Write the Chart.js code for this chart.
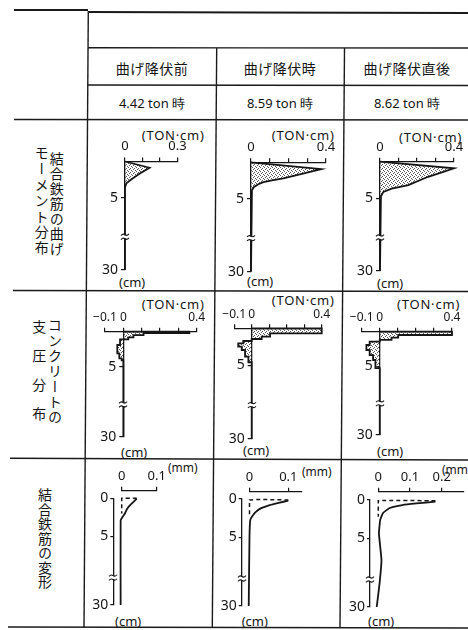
<!DOCTYPE html>
<html lang="ja">
<head>
<meta charset="utf-8">
<title>結合鉄筋の曲げモーメント・支圧・変形分布</title>
<script src="https://cdn.jsdelivr.net/npm/chart.js@4.4.1/dist/chart.umd.min.js"></script>
<style>
  html, body { margin: 0; padding: 0; background: #fff; }
  body { position: relative; width: 468px; height: 630px; overflow: hidden; }
  svg.rules { position: absolute; left: 0; top: 0; }
  canvas { position: absolute; }
  .lbl { position: absolute; color: #151515; white-space: nowrap; line-height: 1; }
  .jp { font-family: 'Noto Sans CJK JP', sans-serif; font-size: 14px; letter-spacing: 0.5px; }
  .num { font-family: 'Noto Sans', 'DejaVu Sans', sans-serif; font-size: 13px; }
  .unit { font-family: 'Noto Sans', 'DejaVu Sans', sans-serif; font-size: 13px; letter-spacing: 0.8px; }
  .mm { font-family: 'Noto Sans', 'DejaVu Sans', sans-serif; font-size: 12px; }
  .vert { position: absolute; writing-mode: vertical-rl; font-family: 'Noto Sans CJK JP', sans-serif;
          font-size: 14px; line-height: 1; color: #151515; white-space: nowrap; }
</style>
</head>
<body>
<svg class="rules" width="468" height="630">
  <g stroke="#1a1a1a" stroke-width="1.4" fill="none">
    <line x1="14" y1="10" x2="88" y2="10" stroke-width="2"/>
    <line x1="88" y1="12" x2="468" y2="13" stroke-width="2"/>
    <line x1="88" y1="47.7" x2="468" y2="48"/>
    <line x1="88" y1="85" x2="468" y2="85.5"/>
    <line x1="14" y1="119.5" x2="468" y2="120"/>
    <line x1="13" y1="290.5" x2="468" y2="291.5"/>
    <line x1="10" y1="458.3" x2="468" y2="460"/>
    <line x1="8" y1="627" x2="468" y2="628"/>
    <line x1="88.3" y1="11" x2="84" y2="628"/>
    <line x1="216.7" y1="48" x2="212.3" y2="628"/>
    <line x1="344.5" y1="48" x2="340" y2="628"/>
  </g>
</svg>

<div class="vert" style="left:49.7px; top:151.5px; letter-spacing:1px;">結合鉄筋の曲げ</div>
<div class="vert" style="left:34.7px; top:146px; letter-spacing:1.8px;">モーメント分布</div>
<div class="vert" style="left:48px; top:317.5px; letter-spacing:1.3px;">コンクリートの</div>
<div class="vert" style="left:32.3px; top:319.5px; letter-spacing:0.4px;">支　圧　分　布</div>
<div class="vert" style="left:38px; top:487.8px; letter-spacing:0.45px;">結合鉄筋の変形</div>

<script>
const INK = '#151515';
Chart.defaults.font.family = "'Noto Sans', 'DejaVu Sans', sans-serif";
Chart.defaults.color = INK;

// ---------- column headings ----------
const stageNames = ['曲げ降伏前', '曲げ降伏時', '曲げ降伏直後'];
const stageLoads = ['4.42 ton 時', '8.59 ton 時', '8.62 ton 時'];

// ---------- depth axis ----------
// 0–10 cm drawn to true scale, 10–30 cm squeezed beyond the break mark
function depthPos(d, squeeze) { return d <= 10 ? d : 10 + (d - 10) * squeeze; }
const depthTicksTop = [5, 30];
const depthTicksDef = [0, 5, 30];

// ---------- 結合鉄筋の曲げモーメント分布 (TON·cm) ----------
const momentDepthBefore = [0, 0.86, 1.63, 2.42, 3.0, 3.6, 30];
const momentValueBefore = [0, 0.14, 0.087, 0.039, 0.008, 0, 0];
const momentDepthAt = [0, 0.93, 1.76, 2.2, 2.45, 2.72, 3.0, 3.37, 3.83, 4.5, 30];
const momentValueAt = [0, 0.375, 0.244, 0.172, 0.119, 0.066, 0.039, 0.016, 0.005, 0, 0];
const momentDepthAfter = [0, 0.9, 1.5, 2.07, 3.2, 3.7, 4.15, 4.8, 5.3, 30];
const momentValueAfter = [0, 0.40, 0.33, 0.26, 0.153, 0.063, 0.018, 0.005, 0, 0];

// ---------- コンクリートの支圧分布 (TON·cm), stepwise over depth ----------
const bearingDepthBefore = [0, 0.2, 0.48, 0.81, 1.1, 1.9, 3.1, 3.8];
const bearingValueBefore = [0.36, 0.11, 0.055, 0.027, -0.018, -0.033, -0.022, -0.009];
const bearingEndBefore = 4.1;
const bearingDepthAt = [0, 0.68, 1.13, 1.45, 1.72, 2.03, 2.49, 2.94, 3.85];
const bearingValueAt = [0.40, 0.105, 0.057, 0, -0.048, -0.077, -0.057, -0.038, -0.019];
const bearingEndAt = 4.6;
const bearingDepthAfter = [0, 0.48, 0.87, 1.2, 1.45, 1.93, 2.66, 3.39, 4.11];
const bearingValueAfter = [0.40, 0.102, 0.065, 0, -0.056, -0.074, -0.056, -0.037, -0.024];
const bearingEndAfter = 5.3;

// ---------- 結合鉄筋の変形 (mm) ----------
const slipDepthBefore = [0.05, 0.5, 1.0, 1.5, 1.97, 2.4, 2.9, 30];
const slipValueBefore = [0.043, 0.033, 0.022, 0.014, 0.0095, 0.003, -0.003, -0.003];
const guideDepthBefore = [0, 0, 2.0];
const guideValueBefore = [0.043, 0, 0];
const slipDepthAt = [0.22, 0.5, 0.79, 1.2, 1.66, 2.2, 2.75, 4.9, 30];
const slipValueAt = [0.1, 0.075, 0.052, 0.03, 0.017, 0.008, 0.002, 0, -0.002];
const guideDepthAt = [0.13, 0.13, 2.3];
const guideValueAt = [0.1, 0, 0];
const slipDepthAfter = [0.22, 0.45, 0.66, 1.05, 1.7, 2.6, 4.4, 7.85, 14.5, 30];
const slipValueAfter = [0.18, 0.12, 0.076, 0.036, 0.015, 0.006, 0.002, 0.01, 0.004, -0.005];
const guideDepthAfter = [0.1, 0.1, 2.2];
const guideValueAfter = [0.18, 0, 0];

// ---------- value-axis ticks ----------
const momentTicks03 = [0, 0.1, 0.2, 0.3];
const momentLabels03 = ['0', '', '', '0.3'];
const momentTicks04 = [0, 0.1, 0.2, 0.3, 0.4];
const momentLabels04 = ['0', '', '', '', '0.4'];
const bearingTicks = [-0.1, 0, 0.1, 0.2, 0.3, 0.4];
const bearingLabels = ['−0.1', '0', '', '', '', '0.4'];
const slipTicks1 = [0, 0.1];
const slipLabels1 = ['0', '0.1'];
const slipTicks2 = [0, 0.1, 0.2];
const slipLabels2 = ['0', '0.1', '0.2'];

// ---------- page text ----------
function place(text, x, y, cls, centered) {
  const el = document.createElement('div');
  el.className = 'lbl ' + cls;
  el.textContent = text;
  el.style.left = x + 'px';
  el.style.top = y + 'px';
  el.style.transform = centered ? 'translate(-50%, -50%)' : 'translateY(-50%)';
  document.body.appendChild(el);
}
const colCenters = [152, 280, 407];
stageNames.forEach((t, i) => place(t, colCenters[i], 68, 'jp', true));
stageLoads.forEach((t, i) => place(t, colCenters[i], 103, 'num', true));

place('(TON·cm)', 141.7, 135, 'unit');
place('(TON·cm)', 271.7, 135, 'unit');
place('(TON·cm)', 399, 137, 'unit');
place('(cm)', 119, 282, 'num');
place('(cm)', 247, 281, 'num');
place('(cm)', 377, 283, 'num');
place('(TON·cm)', 141.7, 304, 'unit');
place('(TON·cm)', 271.7, 300, 'unit');
place('(TON·cm)', 397, 304, 'unit');
place('(cm)', 121, 452, 'num');
place('(cm)', 243, 450, 'num');
place('(cm)', 377, 451, 'num');
place('(mm)', 168, 468, 'mm');
place('(mm)', 302, 471.7, 'mm');
place('(mm)', 442, 470, 'mm');
place('(cm)', 115, 621, 'num');
place('(cm)', 241.7, 621, 'num');
place('(cm)', 368, 621, 'num');

// ---------- stipple fill (small dot tile) ----------
function stipple() {
  const c = document.createElement('canvas');
  c.width = 4; c.height = 4;
  const g = c.getContext('2d');
  g.fillStyle = '#5a5a5a';
  [[0, 0], [2, 1], [1, 3], [3, 2]].forEach(([x, y]) => g.fillRect(x, y, 1, 1));
  return g.createPattern(c, 'repeat');
}
const DOTS = stipple();

// ---------- point builders ----------
function profile(depths, values, squeeze) {
  return depths.map((d, i) => ({ x: values[i], y: depthPos(d, squeeze) }));
}
function stepOutline(depths, values, end, squeeze) {
  const pts = [{ x: 0, y: 0 }];
  depths.forEach((d, i) => {
    const next = i + 1 < depths.length ? depths[i + 1] : end;
    pts.push({ x: values[i], y: depthPos(d, squeeze) }, { x: values[i], y: depthPos(next, squeeze) });
  });
  pts.push({ x: 0, y: depthPos(end, squeeze) }, { x: 0, y: depthPos(30, squeeze) });
  return pts;
}

// ---------- axis placement + break mark ----------
const depthAxis = {
  id: 'depthAxis',
  afterLayout(chart, args, o) {
    const xs = chart.scales.x, ys = chart.scales.y;
    // depth axis stands on the zero of the value axis (or a little left of it)
    const target = xs.getPixelForValue(0) - (o.yGap || 0);
    ys.right = target;
    ys.left = target - 40;
    // value axis sits on the top edge (or a little above it); give its labels room
    xs.bottom = chart.chartArea.top - (o.xGap || 0);
    xs.top = xs.bottom - 30;
  },
  afterDraw(chart, args, o) {
    const ys = chart.scales.y, ctx = chart.ctx;
    const y = ys.getPixelForValue(o.breakAt);
    const x = Math.round(ys.right);
    ctx.save();
    ctx.fillStyle = '#fff';
    ctx.fillRect(x - 2, y - 1.5, 4, 3);
    ctx.strokeStyle = INK;
    ctx.lineWidth = 1.1;
    for (const dy of [-2, 2]) {
      ctx.beginPath();
      ctx.moveTo(x - 4, y + dy + 0.8);
      ctx.quadraticCurveTo(x - 2, y + dy - 1.5, x, y + dy);
      ctx.quadraticCurveTo(x + 2, y + dy + 1.5, x + 4, y + dy - 0.8);
      ctx.stroke();
    }
    ctx.restore();
  }
};

const COLS = [{ l: 89, w: 127 }, { l: 217, w: 127 }, { l: 345, w: 123 }];
const ROWS = [{ t: 121, h: 168 }, { t: 292, h: 165 }, { t: 461, h: 165 }];

function depthChart(c) {
  const cell = { l: COLS[c.col].l, w: COLS[c.col].w, t: ROWS[c.row].t, h: ROWS[c.row].h };
  const cv = document.createElement('canvas');
  cv.width = cell.w; cv.height = cell.h;
  cv.style.left = cell.l + 'px'; cv.style.top = cell.t + 'px';
  cv.style.width = cell.w + 'px'; cv.style.height = cell.h + 'px';
  document.body.appendChild(cv);
  const a = c.area;
  const small = c.row === 2;
  new Chart(cv, {
    type: 'line',
    data: { datasets: c.datasets },
    plugins: [depthAxis],
    options: {
      responsive: false,
      animation: false,
      events: [],
      layout: {
        autoPadding: false,
        padding: { left: a.l - cell.l, top: a.t - cell.t, right: cell.l + cell.w - a.r, bottom: cell.t + cell.h - a.b }
      },
      elements: { point: { radius: 0 }, line: { borderColor: INK, borderWidth: 1.8, tension: 0 } },
      plugins: {
        legend: { display: false },
        tooltip: { enabled: false },
        depthAxis: { yGap: c.yGap || 0, xGap: c.xGap || 0, breakAt: 10.4 }
      },
      scales: {
        x: {
          type: 'linear', position: 'top', min: c.xMin, max: c.xMax,
          afterFit: (s) => { s.height = 0; },
          afterBuildTicks: (s) => { s.ticks = c.xTicks.map((v) => ({ value: v })); },
          ticks: { autoSkip: false, maxRotation: 0, padding: 3, font: { size: c.row === 1 ? 12 : 13 },
                   callback: (v, i) => c.xLabels[i] },
          grid: { drawOnChartArea: false, tickLength: 4, color: INK, lineWidth: 1.2 },
          border: { color: INK, width: 1.3 }
        },
        y: {
          type: 'linear', position: 'left', reverse: true, min: 0, max: depthPos(30, c.squeeze),
          afterFit: (s) => { s.width = 0; },
          afterBuildTicks: (s) => { s.ticks = c.depthTicks.map((d) => ({ value: depthPos(d, c.squeeze) })); },
          ticks: { autoSkip: false, padding: small ? 2 : 3, font: { size: 14 },
                   callback: (v, i) => String(c.depthTicks[i]) },
          grid: { drawOnChartArea: false, tickLength: small ? 3 : 4, color: INK, lineWidth: 1.2 },
          border: { color: INK, width: 1.3 }
        }
      }
    }
  });
}

function areaSet(points) {
  return { data: points, fill: 'shape', backgroundColor: DOTS, borderWidth: 1.8, clip: false };
}
function lineSet(points, dashed) {
  return { data: points, fill: false, borderWidth: dashed ? 1.5 : 1.8, borderDash: dashed ? [4, 3] : [],
           tension: 0.12, clip: false };
}

// row 1: bending moment
depthChart({ row: 0, col: 0, area: { l: 125, r: 177.5, t: 161.5, b: 270 }, squeeze: 0.25,
  xMin: 0, xMax: 0.3, xTicks: momentTicks03, xLabels: momentLabels03, depthTicks: depthTicksTop,
  datasets: [areaSet(profile(momentDepthBefore, momentValueBefore, 0.25))] });
depthChart({ row: 0, col: 1, area: { l: 251, r: 326, t: 162.3, b: 271.7 }, squeeze: 0.25,
  xMin: 0, xMax: 0.4, xTicks: momentTicks04, xLabels: momentLabels04, depthTicks: depthTicksTop,
  datasets: [areaSet(profile(momentDepthAt, momentValueAt, 0.25))] });
depthChart({ row: 0, col: 2, area: { l: 380, r: 454, t: 161.7, b: 271 }, squeeze: 0.25,
  xMin: 0, xMax: 0.4, xTicks: momentTicks04, xLabels: momentLabels04, depthTicks: depthTicksTop,
  datasets: [areaSet(profile(momentDepthAfter, momentValueAfter, 0.25))] });

// row 2: concrete bearing pressure
depthChart({ row: 1, col: 0, area: { l: 105, r: 196.7, t: 331.7, b: 436.7 }, squeeze: 0.25,
  xMin: -0.1, xMax: 0.4, xTicks: bearingTicks, xLabels: bearingLabels, depthTicks: depthTicksTop,
  datasets: [areaSet(stepOutline(bearingDepthBefore, bearingValueBefore, bearingEndBefore, 0.25))] });
depthChart({ row: 1, col: 1, area: { l: 234.2, r: 321.7, t: 328.3, b: 439 }, squeeze: 0.25,
  xMin: -0.1, xMax: 0.4, xTicks: bearingTicks, xLabels: bearingLabels, depthTicks: depthTicksTop,
  datasets: [areaSet(stepOutline(bearingDepthAt, bearingValueAt, bearingEndAt, 0.25))] });
depthChart({ row: 1, col: 2, area: { l: 361.7, r: 452, t: 331.7, b: 435 }, squeeze: 0.25,
  xMin: -0.1, xMax: 0.4, xTicks: bearingTicks, xLabels: bearingLabels, depthTicks: depthTicksTop,
  datasets: [areaSet(stepOutline(bearingDepthAfter, bearingValueAfter, bearingEndAfter, 0.25))] });

// row 3: bar deformation
depthChart({ row: 2, col: 0, area: { l: 121.7, r: 156.7, t: 498.3, b: 605 }, squeeze: 0.2, yGap: 8.4, xGap: 7.6,
  xMin: 0, xMax: 0.1, xTicks: slipTicks1, xLabels: slipLabels1, depthTicks: depthTicksDef,
  datasets: [lineSet(profile(slipDepthBefore, slipValueBefore, 0.2), false),
             lineSet(profile(guideDepthBefore, guideValueBefore, 0.2), true)] });
depthChart({ row: 2, col: 1, area: { l: 249.5, r: 301.9, t: 499, b: 606 }, squeeze: 0.2, yGap: 7.8, xGap: 7.3,
  xMin: 0, xMax: 0.135, xTicks: slipTicks1, xLabels: slipLabels1, depthTicks: depthTicksDef,
  datasets: [lineSet(profile(slipDepthAt, slipValueAt, 0.2), false),
             lineSet(profile(guideDepthAt, guideValueAt, 0.2), true)] });
depthChart({ row: 2, col: 2, area: { l: 378.3, r: 463.3, t: 500, b: 607 }, squeeze: 0.2, yGap: 8.3, xGap: 8.3,
  xMin: 0, xMax: 0.268, xTicks: slipTicks2, xLabels: slipLabels2, depthTicks: depthTicksDef,
  datasets: [lineSet(profile(slipDepthAfter, slipValueAfter, 0.2), false),
             lineSet(profile(guideDepthAfter, guideValueAfter, 0.2), true)] });
</script>
</body>
</html>
